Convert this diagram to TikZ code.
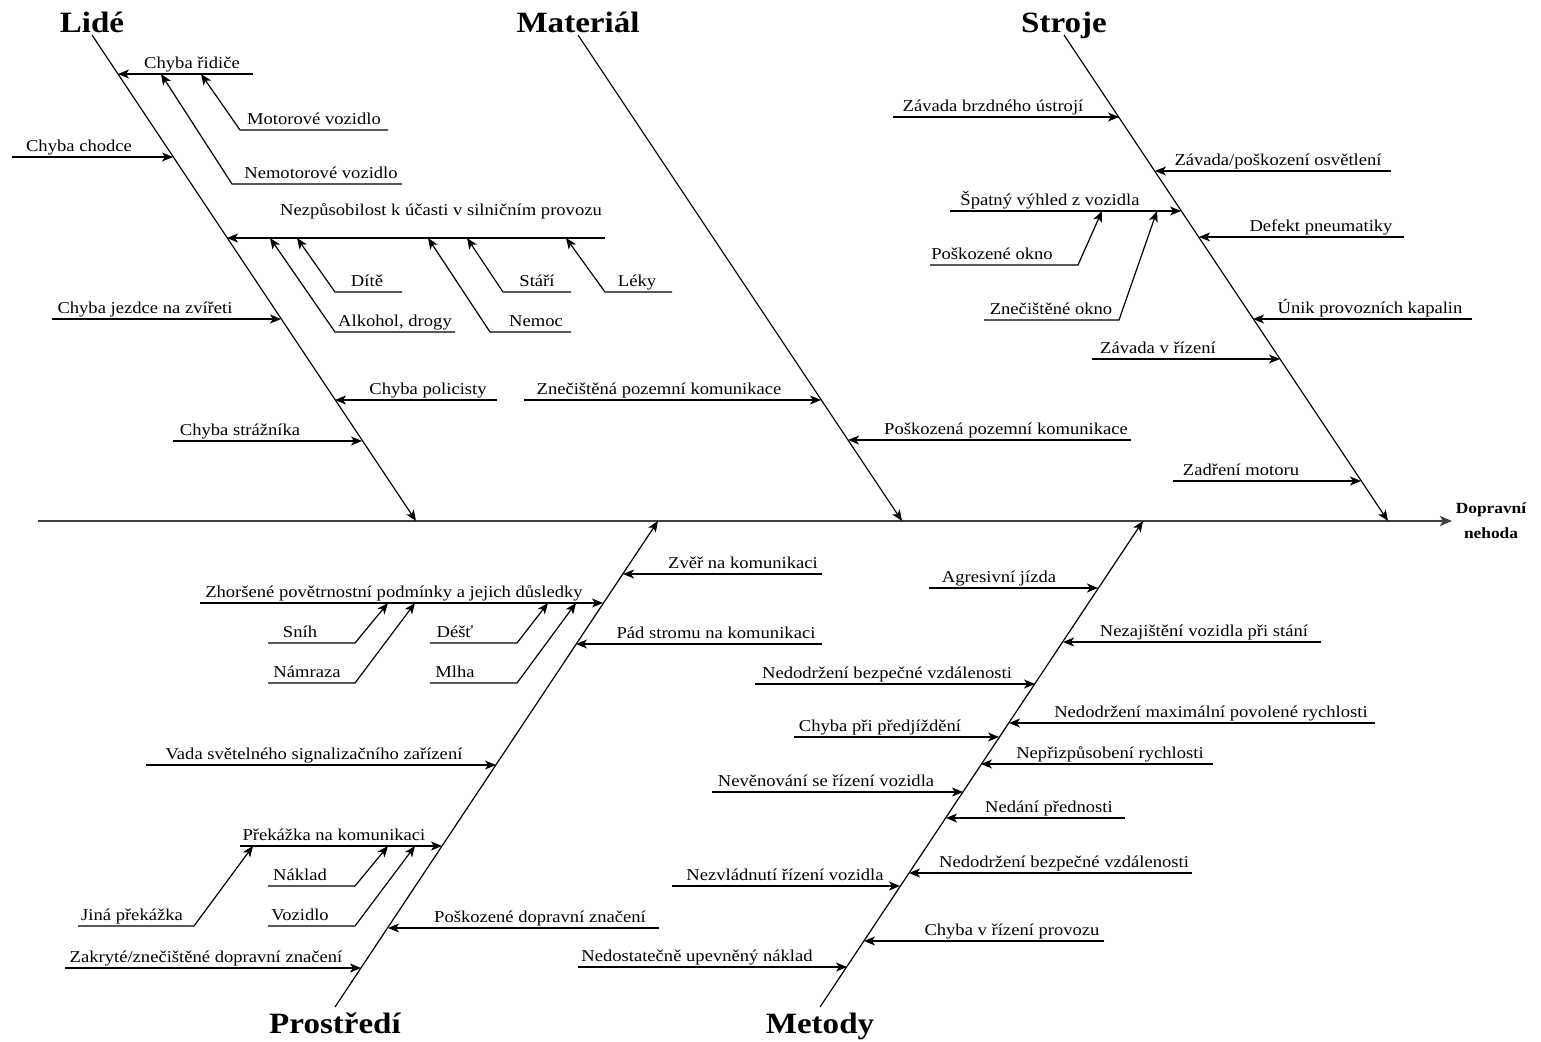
\documentclass[tikz,border=0pt]{standalone}
\usepackage{fontspec}
\setmainfont[FakeStretch=1.12]{Liberation Serif}
\usetikzlibrary{arrows.meta}

\tikzset{
  lbl/.style={font=\fontsize{16.6}{20}\selectfont, anchor=base, inner sep=0pt},
  ttl/.style={font=\bfseries\fontsize{29.5}{34}\selectfont, anchor=base, inner sep=0pt},
  arr/.style={line width=1.2pt, -{Stealth[length=11pt,width=9pt,inset=3pt]}},
  spine/.style={line width=2pt, black!75, -{Stealth[length=12pt,width=10pt,inset=3pt]}}
}

\begin{document}
\begin{tikzpicture}[x=1pt,y=-1pt]
\useasboundingbox (0,0) rectangle (1541,1041);

% hlavni osa
\coordinate (osaA) at (38,521); \coordinate (osaB) at (1452,521);
\draw[spine] (osaA) -- (osaB);
\node[font=\bfseries\fontsize{15.5}{25}\selectfont, align=center, inner sep=0pt] (nehoda) at (1491,521) {Dopravní\\nehoda};

% Lide
\node[ttl] (lide) at (92,33) {Lidé};
\coordinate (lideA) at (92,35); \coordinate (lideB) at (416,521);
\draw[arr] (lideA) -- (lideB);

\node[lbl] (ridic) at (192,68) {Chyba řidiče};
\coordinate (ridicA) at (253,74); \coordinate (ridicB) at (118,74);
\draw[arr] (ridicA) -- (ridicB);

\node[lbl] (motor) at (314,124) {Motorové vozidlo};
\coordinate (motorA) at (388,130); \coordinate (motorB) at (240,130); \coordinate (motorC) at (201,74);
\draw[arr] (motorA) -- (motorB) -- (motorC);

\node[lbl] (nemotor) at (321,178) {Nemotorové vozidlo};
\coordinate (nemotorA) at (402,184); \coordinate (nemotorB) at (232,184); \coordinate (nemotorC) at (161,74);
\draw[arr] (nemotorA) -- (nemotorB) -- (nemotorC);

\node[lbl] (chodec) at (79,151) {Chyba chodce};
\coordinate (chodecA) at (12,157); \coordinate (chodecB) at (173,157);
\draw[arr] (chodecA) -- (chodecB);

\node[lbl] (nezpus) at (441,215) {Nezpůsobilost k účasti v silničním provozu};
\coordinate (nezpusA) at (605,238); \coordinate (nezpusB) at (227,238);
\draw[arr] (nezpusA) -- (nezpusB);

\node[lbl] (dite) at (367,286) {Dítě};
\coordinate (diteA) at (402,292); \coordinate (diteB) at (335,292); \coordinate (diteC) at (297,238);
\draw[arr] (diteA) -- (diteB) -- (diteC);

\node[lbl] (alkohol) at (395,326) {Alkohol, drogy};
\coordinate (alkoholA) at (455,332); \coordinate (alkoholB) at (335,332); \coordinate (alkoholC) at (270,238);
\draw[arr] (alkoholA) -- (alkoholB) -- (alkoholC);

\node[lbl] (stari) at (537,286) {Stáří};
\coordinate (stariA) at (571,292); \coordinate (stariB) at (503,292); \coordinate (stariC) at (467,238);
\draw[arr] (stariA) -- (stariB) -- (stariC);

\node[lbl] (nemoc) at (536,326) {Nemoc};
\coordinate (nemocA) at (571,332); \coordinate (nemocB) at (490,332); \coordinate (nemocC) at (428,238);
\draw[arr] (nemocA) -- (nemocB) -- (nemocC);

\node[lbl] (leky) at (637,286) {Léky};
\coordinate (lekyA) at (672,292); \coordinate (lekyB) at (605,292); \coordinate (lekyC) at (566,238);
\draw[arr] (lekyA) -- (lekyB) -- (lekyC);

\node[lbl] (jezdec) at (145,313) {Chyba jezdce na zvířeti};
\coordinate (jezdecA) at (52,319); \coordinate (jezdecB) at (281,319);
\draw[arr] (jezdecA) -- (jezdecB);

\node[lbl] (policie) at (428,394) {Chyba policisty};
\coordinate (policieA) at (497,400); \coordinate (policieB) at (335,400);
\draw[arr] (policieA) -- (policieB);

\node[lbl] (straz) at (240,435) {Chyba strážníka};
\coordinate (strazA) at (173,441); \coordinate (strazB) at (362,441);
\draw[arr] (strazA) -- (strazB);

% Material
\node[ttl] (material) at (578,33) {Materiál};
\coordinate (materialA) at (578,35); \coordinate (materialB) at (902,521);
\draw[arr] (materialA) -- (materialB);

\node[lbl] (zneciste) at (659,394) {Znečištěná pozemní komunikace};
\coordinate (znecisteA) at (524,400); \coordinate (znecisteB) at (821,400);
\draw[arr] (znecisteA) -- (znecisteB);

\node[lbl] (poskoz) at (1006,434) {Poškozená pozemní komunikace};
\coordinate (poskozA) at (1131,440); \coordinate (poskozB) at (848,440);
\draw[arr] (poskozA) -- (poskozB);

% Stroje
\node[ttl] (stroje) at (1064,33) {Stroje};
\coordinate (strojeA) at (1064,35); \coordinate (strojeB) at (1388,521);
\draw[arr] (strojeA) -- (strojeB);

\node[lbl] (brzdy) at (993,111) {Závada brzdného ústrojí};
\coordinate (brzdyA) at (893,117); \coordinate (brzdyB) at (1119,117);
\draw[arr] (brzdyA) -- (brzdyB);

\node[lbl] (svetla) at (1278,165) {Závada/poškození osvětlení};
\coordinate (svetlaA) at (1391,171); \coordinate (svetlaB) at (1155,171);
\draw[arr] (svetlaA) -- (svetlaB);

\node[lbl] (vyhled) at (1050,205) {Špatný výhled z vozidla};
\coordinate (vyhledA) at (950,211); \coordinate (vyhledB) at (1181,211);
\draw[arr] (vyhledA) -- (vyhledB);

\node[lbl] (okno) at (992,259) {Poškozené okno};
\coordinate (oknoA) at (930,265); \coordinate (oknoB) at (1078,265); \coordinate (oknoC) at (1102,211);
\draw[arr] (oknoA) -- (oknoB) -- (oknoC);

\node[lbl] (spinave) at (1051,314) {Znečištěné okno};
\coordinate (spinaveA) at (984,320); \coordinate (spinaveB) at (1119,320); \coordinate (spinaveC) at (1157,211);
\draw[arr] (spinaveA) -- (spinaveB) -- (spinaveC);

\node[lbl] (pneu) at (1321,231) {Defekt pneumatiky};
\coordinate (pneuA) at (1404,237); \coordinate (pneuB) at (1199,237);
\draw[arr] (pneuA) -- (pneuB);

\node[lbl] (kapaliny) at (1370,313) {Únik provozních kapalin};
\coordinate (kapalinyA) at (1472,319); \coordinate (kapalinyB) at (1253,319);
\draw[arr] (kapalinyA) -- (kapalinyB);

\node[lbl] (rizeni) at (1158,353) {Závada v řízení};
\coordinate (rizeniA) at (1092,359); \coordinate (rizeniB) at (1280,359);
\draw[arr] (rizeniA) -- (rizeniB);

\node[lbl] (zadreni) at (1241,475) {Zadření motoru};
\coordinate (zadreniA) at (1173,481); \coordinate (zadreniB) at (1361,481);
\draw[arr] (zadreniA) -- (zadreniB);

% Prostredi
\node[ttl] (prostredi) at (335,1033) {Prostředí};
\coordinate (prostrediA) at (335,1007); \coordinate (prostrediB) at (658,521);
\draw[arr] (prostrediA) -- (prostrediB);

\node[lbl] (zver) at (743,568) {Zvěř na komunikaci};
\coordinate (zverA) at (822,574); \coordinate (zverB) at (623,574);
\draw[arr] (zverA) -- (zverB);

\node[lbl] (pocasi) at (394,597) {Zhoršené povětrnostní podmínky a jejich důsledky};
\coordinate (pocasiA) at (200,603); \coordinate (pocasiB) at (603,603);
\draw[arr] (pocasiA) -- (pocasiB);

\node[lbl] (snih) at (300,637) {Sníh};
\coordinate (snihA) at (268,643); \coordinate (snihB) at (355,643); \coordinate (snihC) at (388,603);
\draw[arr] (snihA) -- (snihB) -- (snihC);

\node[lbl] (namraza) at (307,677) {Námraza};
\coordinate (namrazaA) at (268,683); \coordinate (namrazaB) at (355,683); \coordinate (namrazaC) at (415,603);
\draw[arr] (namrazaA) -- (namrazaB) -- (namrazaC);

\node[lbl] (dest) at (455,637) {Déšť};
\coordinate (destA) at (430,643); \coordinate (destB) at (517,643); \coordinate (destC) at (548,603);
\draw[arr] (destA) -- (destB) -- (destC);

\node[lbl] (mlha) at (455,677) {Mlha};
\coordinate (mlhaA) at (430,683); \coordinate (mlhaB) at (517,683); \coordinate (mlhaC) at (576,603);
\draw[arr] (mlhaA) -- (mlhaB) -- (mlhaC);

\node[lbl] (strom) at (716,638) {Pád stromu na komunikaci};
\coordinate (stromA) at (822,644); \coordinate (stromB) at (576,644);
\draw[arr] (stromA) -- (stromB);

\node[lbl] (semafor) at (314,759) {Vada světelného signalizačního zařízení};
\coordinate (semaforA) at (146,765); \coordinate (semaforB) at (496,765);
\draw[arr] (semaforA) -- (semaforB);

\node[lbl] (prekazka) at (334,840) {Překážka na komunikaci};
\coordinate (prekazkaA) at (240,846); \coordinate (prekazkaB) at (442,846);
\draw[arr] (prekazkaA) -- (prekazkaB);

\node[lbl] (jina) at (132,920) {Jiná překážka};
\coordinate (jinaA) at (78,926); \coordinate (jinaB) at (194,926); \coordinate (jinaC) at (253,846);
\draw[arr] (jinaA) -- (jinaB) -- (jinaC);

\node[lbl] (naklad) at (300,880) {Náklad};
\coordinate (nakladA) at (268,886); \coordinate (nakladB) at (355,886); \coordinate (nakladC) at (388,846);
\draw[arr] (nakladA) -- (nakladB) -- (nakladC);

\node[lbl] (vozidlo) at (300,920) {Vozidlo};
\coordinate (vozidloA) at (268,926); \coordinate (vozidloB) at (355,926); \coordinate (vozidloC) at (415,846);
\draw[arr] (vozidloA) -- (vozidloB) -- (vozidloC);

\node[lbl] (znaceni) at (540,922) {Poškozené dopravní značení};
\coordinate (znaceniA) at (659,928); \coordinate (znaceniB) at (388,928);
\draw[arr] (znaceniA) -- (znaceniB);

\node[lbl] (zakryte) at (206,962) {Zakryté/znečištěné dopravní značení};
\coordinate (zakryteA) at (65,968); \coordinate (zakryteB) at (361,968);
\draw[arr] (zakryteA) -- (zakryteB);

% Metody
\node[ttl] (metody) at (820,1033) {Metody};
\coordinate (metodyA) at (820,1007); \coordinate (metodyB) at (1143,521);
\draw[arr] (metodyA) -- (metodyB);

\node[lbl] (agrese) at (999,582) {Agresivní jízda};
\coordinate (agreseA) at (929,588); \coordinate (agreseB) at (1098,588);
\draw[arr] (agreseA) -- (agreseB);

\node[lbl] (stani) at (1204,636) {Nezajištění vozidla při stání};
\coordinate (staniA) at (1321,642); \coordinate (staniB) at (1063,642);
\draw[arr] (staniA) -- (staniB);

\node[lbl] (odstup) at (887,678) {Nedodržení bezpečné vzdálenosti};
\coordinate (odstupA) at (755,684); \coordinate (odstupB) at (1035,684);
\draw[arr] (odstupA) -- (odstupB);

\node[lbl] (maxrych) at (1211,717) {Nedodržení maximální povolené rychlosti};
\coordinate (maxrychA) at (1375,723); \coordinate (maxrychB) at (1009,723);
\draw[arr] (maxrychA) -- (maxrychB);

\node[lbl] (predjeti) at (880,731) {Chyba při předjíždění};
\coordinate (predjetiA) at (794,737); \coordinate (predjetiB) at (999,737);
\draw[arr] (predjetiA) -- (predjetiB);

\node[lbl] (rychlost) at (1110,758) {Nepřizpůsobení rychlosti};
\coordinate (rychlostA) at (1213,764); \coordinate (rychlostB) at (981,764);
\draw[arr] (rychlostA) -- (rychlostB);

\node[lbl] (pozornost) at (826,786) {Nevěnování se řízení vozidla};
\coordinate (pozornostA) at (712,792); \coordinate (pozornostB) at (963,792);
\draw[arr] (pozornostA) -- (pozornostB);

\node[lbl] (prednost) at (1049,812) {Nedání přednosti};
\coordinate (prednostA) at (1125,818); \coordinate (prednostB) at (946,818);
\draw[arr] (prednostA) -- (prednostB);

\node[lbl] (odstup2) at (1064,867) {Nedodržení bezpečné vzdálenosti};
\coordinate (odstup2A) at (1192,873); \coordinate (odstup2B) at (909,873);
\draw[arr] (odstup2A) -- (odstup2B);

\node[lbl] (nezvlad) at (785,880) {Nezvládnutí řízení vozidla};
\coordinate (nezvladA) at (672,886); \coordinate (nezvladB) at (900,886);
\draw[arr] (nezvladA) -- (nezvladB);

\node[lbl] (provoz) at (1012,935) {Chyba v řízení provozu};
\coordinate (provozA) at (1104,941); \coordinate (provozB) at (864,941);
\draw[arr] (provozA) -- (provozB);

\node[lbl] (upevneni) at (697,961) {Nedostatečně upevněný náklad};
\coordinate (upevneniA) at (578,967); \coordinate (upevneniB) at (847,967);
\draw[arr] (upevneniA) -- (upevneniB);

\end{tikzpicture}
\end{document}
